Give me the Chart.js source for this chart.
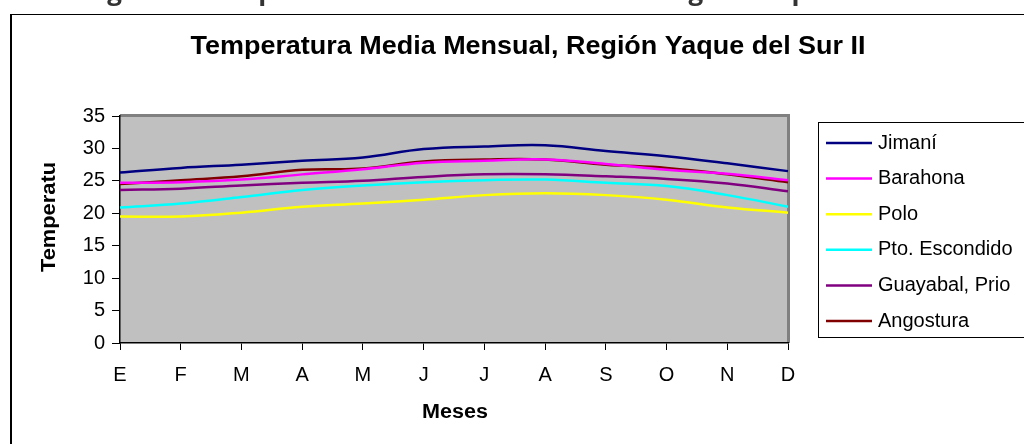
<!DOCTYPE html>
<html>
<head>
<meta charset="utf-8">
<script src="https://cdn.jsdelivr.net/npm/chart.js@4.4.1/dist/chart.umd.min.js"></script>
<style>
  html, body { margin: 0; padding: 0; background: #fff; }
  #wrap { position: relative; width: 1024px; height: 444px; overflow: hidden; }
</style>
</head>
<body>
<div id="wrap"><canvas id="tempChart" width="1024" height="444"></canvas></div>
<script>
// meses y temperaturas medias (°C)
const months = ['E', 'F', 'M', 'A', 'M', 'J', 'J', 'A', 'S', 'O', 'N', 'D'];
const yTicks = [0, 5, 10, 15, 20, 25, 30, 35];

const jimani    = [26.3, 27.0, 27.5, 28.1, 28.6, 29.9, 30.3, 30.5, 29.6, 28.8, 27.7, 26.5];
const barahona  = [24.7, 24.8, 25.2, 26.0, 26.8, 27.8, 28.1, 28.3, 27.6, 26.7, 26.1, 25.1];
const polo      = [19.5, 19.5, 20.1, 21.0, 21.5, 22.1, 22.8, 23.1, 22.8, 22.1, 20.9, 20.1];
const escondido = [20.9, 21.5, 22.5, 23.6, 24.3, 24.8, 25.1, 25.2, 24.7, 24.2, 22.8, 21.0];
const guayabal  = [23.6, 23.8, 24.3, 24.7, 25.0, 25.6, 26.0, 26.0, 25.7, 25.3, 24.6, 23.4];
const angostura = [24.5, 25.1, 25.7, 26.7, 26.9, 28.0, 28.3, 28.3, 27.5, 27.0, 26.0, 24.8];

const FONT = 'Arial, "Liberation Sans", sans-serif';

function serie(label, data, color) {
    return {
        label: label,
        data: data,
        borderColor: color,
        backgroundColor: color,
        borderWidth: 2.5,
        pointRadius: 0,
        tension: 0.4,
        fill: false
    };
}

// texto ensanchado hasta un ancho dado (el original viene estirado)
function textoAncho(ctx, txt, cx, cy, ancho) {
    const w = ctx.measureText(txt).width;
    ctx.save();
    ctx.translate(cx, cy);
    ctx.scale(ancho / w, 1);
    ctx.fillText(txt, 0, 0);
    ctx.restore();
}

const decoraciones = {
    id: 'decoraciones',
    beforeDraw(chart) {
        const ctx = chart.ctx;
        const a = chart.chartArea;
        ctx.save();
        ctx.fillStyle = '#fff';
        ctx.fillRect(0, 0, chart.width, chart.height);

        // texto cortado arriba
        ctx.fillStyle = '#333';
        ctx.font = 'bold 26px "Open Sans", sans-serif';
        ctx.textBaseline = 'alphabetic';
        ctx.fillText('Figura 3. Temperatura media mensual en la Región Yaque del Sur', 85, 0);

        // marco exterior
        ctx.strokeStyle = '#000';
        ctx.lineWidth = 1;
        ctx.beginPath();
        ctx.moveTo(11, 450);
        ctx.lineTo(11, 14.5);
        ctx.lineTo(1030, 14.5);
        ctx.stroke();
        ctx.lineWidth = 2;
        ctx.beginPath();
        ctx.moveTo(11, 450);
        ctx.lineTo(11, 14);
        ctx.stroke();

        // fondo del area de trazado
        ctx.fillStyle = '#c0c0c0';
        ctx.fillRect(a.left, a.top, a.right - a.left, a.bottom - a.top);
        ctx.fillStyle = '#808080';
        ctx.fillRect(a.left, a.top - 2, a.right - a.left + 2, 3);
        ctx.fillRect(a.right - 1, a.top - 2, 3, a.bottom - a.top + 2);

        // titulo
        ctx.fillStyle = '#000';
        ctx.font = 'bold 25px ' + FONT;
        ctx.textAlign = 'center';
        ctx.textBaseline = 'middle';
        textoAncho(ctx, 'Temperatura Media Mensual, Región Yaque del Sur II', 528, 47, 675);

        // titulos de ejes
        ctx.font = 'bold 20px ' + FONT;
        textoAncho(ctx, 'Meses', 455, 412, 66);
        ctx.translate(49, 217);
        ctx.rotate(-Math.PI / 2);
        ctx.font = 'bold 21px ' + FONT;
        textoAncho(ctx, 'Temperatu', 0, 0, 110);
        ctx.restore();
    },
    afterDraw(chart) {
        const ctx = chart.ctx;
        ctx.save();
        // leyenda
        ctx.strokeStyle = '#000';
        ctx.lineWidth = 1;
        ctx.strokeRect(818.5, 122.5, 300, 215);
        ctx.font = '20px ' + FONT;
        ctx.textAlign = 'left';
        ctx.textBaseline = 'middle';
        chart.data.datasets.forEach((ds, i) => {
            const y = 143 + i * 35.6;
            ctx.strokeStyle = ds.borderColor;
            ctx.lineWidth = 2.5;
            ctx.beginPath();
            ctx.moveTo(826, y);
            ctx.lineTo(872, y);
            ctx.stroke();
            ctx.fillStyle = '#000';
            ctx.fillText(ds.label, 878, y);
        });
        ctx.restore();
    }
};

new Chart(document.getElementById('tempChart').getContext('2d'), {
    type: 'line',
    data: {
        labels: months,
        datasets: [
            serie('Jimaní', jimani, '#000080'),
            serie('Barahona', barahona, '#ff00ff'),
            serie('Polo', polo, '#ffff00'),
            serie('Pto. Escondido', escondido, '#00ffff'),
            serie('Guayabal, Prio', guayabal, '#800080'),
            serie('Angostura', angostura, '#800000')
        ]
    },
    options: {
        responsive: false,
        animation: false,
        events: [],
        layout: { padding: { left: 0, right: 236, top: 116, bottom: 0 } },
        plugins: {
            legend: { display: false },
            title: { display: false },
            tooltip: { enabled: false }
        },
        scales: {
            x: {
                offset: false,
                afterFit: s => { s.height = 101; },
                grid: { drawOnChartArea: false, drawTicks: true, tickLength: 7, color: '#000', lineWidth: 1 },
                border: { display: true, color: '#000', width: 1.5 },
                ticks: { color: '#000', font: { family: FONT, size: 20 }, padding: 13, maxRotation: 0, autoSkip: false }
            },
            y: {
                min: 0,
                max: 35,
                afterFit: s => { s.width = 120; },
                afterBuildTicks: s => { s.ticks = yTicks.map(v => ({ value: v })); },
                grid: { drawOnChartArea: false, drawTicks: true, tickLength: 8, color: '#000', lineWidth: 1 },
                border: { display: true, color: '#000', width: 1.5 },
                ticks: { color: '#000', font: { family: FONT, size: 20 }, padding: 7 }
            }
        }
    },
    plugins: [decoraciones]
});
</script>
</body>
</html>
